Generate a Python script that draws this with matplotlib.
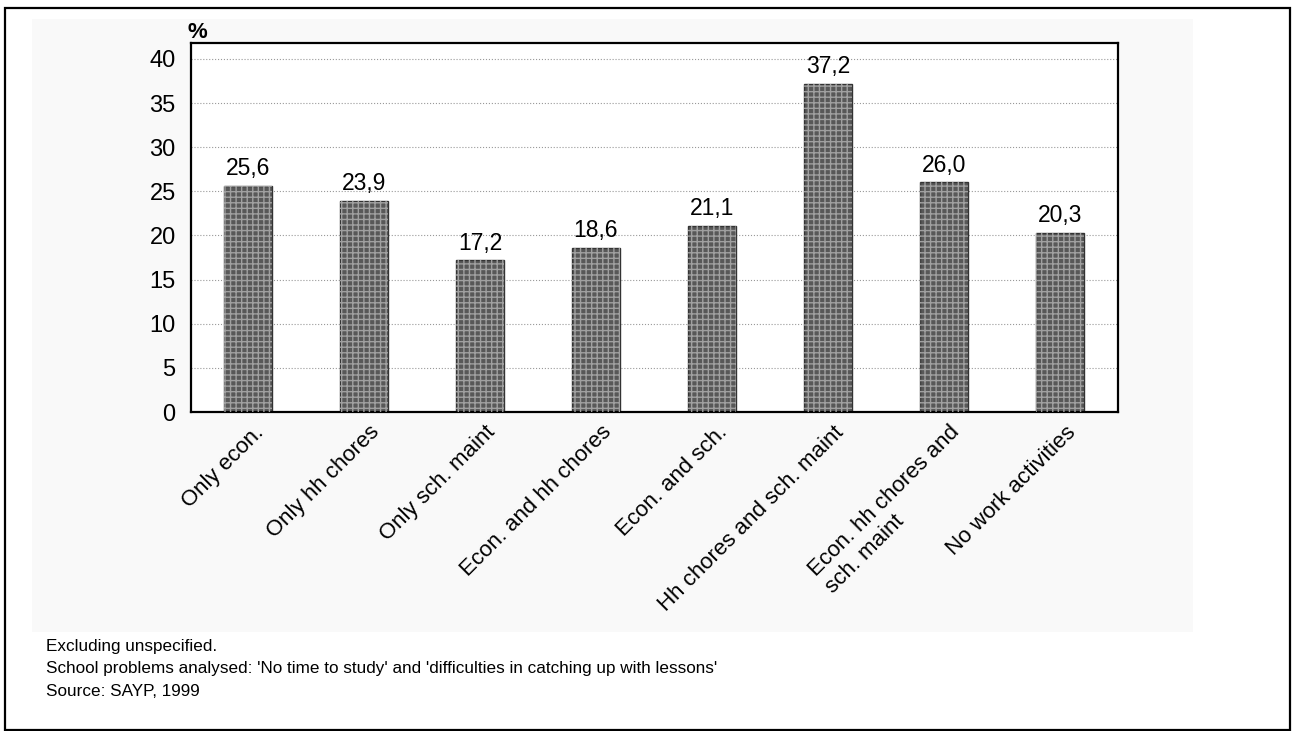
import matplotlib
matplotlib.use('Agg')
import matplotlib.pyplot as plt
from matplotlib.patches import Rectangle
from matplotlib.transforms import ScaledTranslation

categories = ["Only econ.", "Only hh chores", "Only sch. maint", "Econ. and hh chores",
              "Econ. and sch.", "Hh chores and sch. maint", "Econ. hh chores and\nsch. maint",
              "No work activities"]
values = [25.6, 23.9, 17.2, 18.6, 21.1, 37.2, 26.0, 20.3]
yticks = [0, 5, 10, 15, 20, 25, 30, 35, 40]
notes = ["Excluding unspecified.",
         "School problems analysed: 'No time to study' and 'difficulties in catching up with lessons'",
         "Source: SAYP, 1999"]

plt.rcParams['font.family'] = ['Liberation Sans', 'DejaVu Sans']

W, H = 1292, 731
fig = plt.figure(figsize=(W / 100, H / 100), dpi=100)
fig.patch.set_facecolor('white')

# outer frame and light panel
fig.add_artist(Rectangle((5 / W, 1 - 730 / H), 1285 / W, 722 / H, transform=fig.transFigure,
                         fill=False, edgecolor='black', linewidth=1.6))
fig.add_artist(Rectangle((32 / W, 1 - 632 / H), 1161 / W, 613 / H, transform=fig.transFigure,
                         facecolor='#f9f9f9', edgecolor='none', zorder=-5))

ax = fig.add_axes([191 / W, 1 - 412 / H, 927 / W, 369 / H])
ax.set_facecolor('white')
x = list(range(len(values)))
ax.bar(x, values, width=0.41, color='#585858', edgecolor='#333333', linewidth=1, zorder=2)
ax.bar(x, values, width=0.41, color='none', edgecolor='#a0a0a0', hatch='+++', linewidth=0, zorder=3)

for xi, v in zip(x, values):
    ax.annotate(f"{v:.1f}".replace('.', ','), (xi, v), xytext=(0, 4), textcoords='offset points',
                ha='center', va='bottom', fontsize=16.5)

ax.set_xlim(-0.49, 7.5)
ax.set_ylim(0, 41.8)
ax.set_yticks(yticks)
ax.tick_params(axis='y', length=0, pad=11, labelsize=17)
ax.tick_params(axis='x', length=0, pad=7)
ax.set_xticks(x)
ax.set_xticklabels(categories, rotation=45, ha='right', rotation_mode='anchor',
                   fontsize=16, multialignment='left')
shift = ScaledTranslation(5 / 100, 0, fig.dpi_scale_trans)
for lbl in ax.get_xticklabels():
    lbl.set_transform(lbl.get_transform() + shift)
ax.yaxis.grid(True, linestyle=':', color='#999999', linewidth=0.8, zorder=0)
ax.set_axisbelow(True)
for s in ax.spines.values():
    s.set_linewidth(1.6)
    s.set_color('black')

fig.text(187 / W, 1 - 38 / H, "%", fontsize=16, fontweight='bold', va='baseline')

for i, line in enumerate(notes):
    fig.text(46 / W, 1 - (647 + 22 * i) / H, line, fontsize=12.3, va='center')

fig.savefig('out.png', dpi=100)
